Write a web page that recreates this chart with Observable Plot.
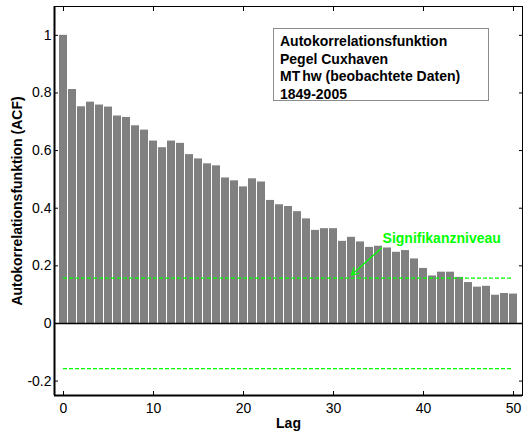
<!DOCTYPE html>
<html>
<head>
<meta charset="utf-8">
<script src="https://cdn.jsdelivr.net/npm/d3@7"></script>
<script src="https://cdn.jsdelivr.net/npm/@observablehq/plot@0.6"></script>
<style>
  body { margin: 0; background: #fff; }
  #wrap { position: relative; width: 525px; height: 436px; font-family: "Liberation Sans", Arial, sans-serif; }
  #wrap svg { position: absolute; left: 0; top: 0; }
  #legendbox {
    position: absolute; left: 273px; top: 28px; width: 208px; height: 67px;
    border: 1.5px solid #8c8c8c; background: #fff;
    padding: 4px 0 0 6px; font-weight: bold; font-size: 14px; line-height: 17.6px; color: #000;
    white-space: nowrap;
  }
</style>
</head>
<body>
<div id="wrap"></div>
<script>
// ---- data ----
const lags = [0,1,2,3,4,5,6,7,8,9,10,11,12,13,14,15,16,17,18,19,20,21,22,23,24,25,26,27,28,29,30,31,32,33,34,35,36,37,38,39,40,41,42,43,44,45,46,47,48,49,50];
const acf = [1.000,0.812,0.752,0.768,0.758,0.751,0.720,0.715,0.686,0.671,
             0.633,0.610,0.633,0.625,0.586,0.571,0.554,0.547,0.505,0.495,
             0.474,0.502,0.491,0.427,0.412,0.406,0.388,0.363,0.323,0.329,
             0.329,0.285,0.299,0.283,0.264,0.268,0.262,0.247,0.253,0.224,
             0.191,0.165,0.178,0.178,0.160,0.142,0.126,0.129,0.098,0.104,0.102];
const sigLevel = 0.157;
const xTicks = [0, 10, 20, 30, 40, 50];
const yTicks = [-0.2, 0, 0.2, 0.4, 0.6, 0.8, 1];
const xDomain = [-1, 51];
const yDomain = [-0.25, 1.1];
const xLabel = "Lag";
const yLabel = "Autokorrelationsfunktion (ACF)";
const legendLines = ["Autokorrelationsfunktion", "Pegel Cuxhaven", "MThw (beobachtete Daten)", "1849-2005"];
const annotation = [{label: "Signifikanzniveau", x: 35.45, y: 0.28}];
const arrowData = [{x1: 35.34, y1: 0.262, x2: 32.0, y2: 0.168}];

const data = lags.map((lag, i) => ({lag, acf: acf[i]}));
const green = "#00ff00";

const plot = Plot.plot({
  width: 525,
  height: 436,
  marginLeft: 54,
  marginRight: 3,
  marginTop: 6,
  marginBottom: 41,
  style: {fontSize: "14px", fontFamily: "'Liberation Sans', Arial, sans-serif", background: "#fff", color: "#000"},
  x: {domain: xDomain},
  y: {domain: yDomain},
  marks: [
    Plot.rectY(data, {x1: d => d.lag - 0.5, x2: d => d.lag + 0.5, y: "acf", fill: "#808080", insetLeft: 0.5, insetRight: 0.5}),
    Plot.ruleY([0], {stroke: "#000", strokeWidth: 1.6}),
    Plot.ruleY([sigLevel, -sigLevel], {x1: lags[0], x2: lags[lags.length - 1], stroke: green, strokeWidth: 1.2, strokeDasharray: "4,2"}),
    Plot.frame({stroke: "#000", strokeWidth: 1}),
    Plot.ruleX([xDomain[0]], {stroke: "#000", strokeWidth: 2}),
    Plot.ruleY([yDomain[0]], {stroke: "#000", strokeWidth: 2}),
    Plot.axisY({ticks: yTicks, tickSize: -4, tickPadding: 7, tickFormat: d => String(d), label: null}),
    Plot.axisY({anchor: "right", ticks: yTicks, tickSize: -4, tickFormat: () => "", label: null}),
    Plot.axisX({ticks: xTicks, tickSize: -4, tickPadding: 12, tickFormat: d => String(d), label: null}),
    Plot.axisX({anchor: "top", ticks: xTicks, tickSize: -4, tickFormat: () => "", label: null}),
    Plot.text([yLabel], {frameAnchor: "left", rotate: -90, dx: -37, text: d => d, fontWeight: "bold", fontSize: 14,
      textAnchor: "middle", lineAnchor: "middle"}),
    Plot.text([xLabel], {frameAnchor: "bottom", dy: 28, text: d => d, fontWeight: "bold", fontSize: 14,
      textAnchor: "middle", lineAnchor: "middle"}),
    Plot.text(annotation, {x: "x", y: "y", text: "label", textAnchor: "start", lineAnchor: "bottom",
      fill: green, fontWeight: "bold", fontSize: 14}),
    Plot.arrow(arrowData, {x1: "x1", y1: "y1", x2: "x2", y2: "y2", stroke: green, strokeWidth: 1.3, headLength: 9})
  ]
});

const wrap = document.getElementById("wrap");
wrap.appendChild(plot);
const box = document.createElement("div");
box.id = "legendbox";
box.innerHTML = legendLines.map(s => s.replace("MThw", 'MT<span style="margin-left:2px">hw</span>')).join("<br>");
wrap.appendChild(box);
</script>
</body>
</html>
